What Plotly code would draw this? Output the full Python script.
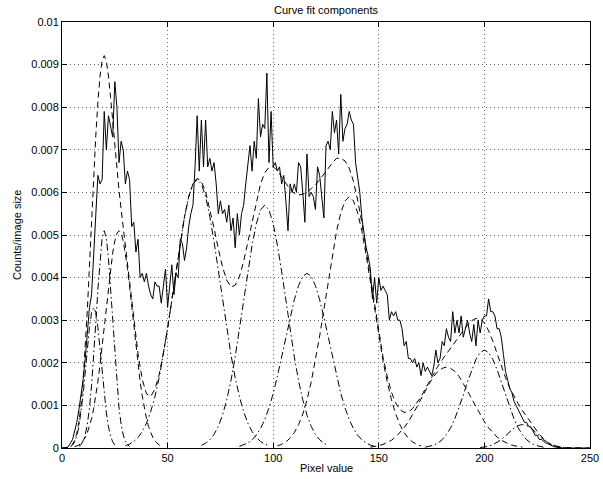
import plotly.graph_objects as go

SCALE = 1e-4  # values below are typed in units of 1e-4

PIXEL_VALUES = list(range(0, 251))
HISTOGRAM = [
    0, 0, 0, 0.3, 1, 2, 4, 6, 9, 12,
    16, 21, 27, 33, 36, 45, 53, 64, 62, 63,
    79, 70, 78, 75, 73, 86, 80, 67, 72, 70,
    62, 65, 63, 52, 53, 46, 49, 40, 41, 39,
    41, 38, 36, 35, 39, 38, 38, 34, 38, 42,
    33, 38, 43, 36, 41, 40, 49, 48, 44, 47,
    52, 55, 57, 66, 78, 65, 77, 66, 77, 66,
    68, 65, 67, 62, 55, 58, 55, 56, 53, 57,
    51, 54, 47, 55, 50, 55, 57, 62, 66, 71,
    65, 72, 68, 82, 73, 76, 75, 88, 67, 79,
    66, 67, 65, 66, 62, 64, 58, 51, 62, 60,
    62, 60, 67, 66, 60, 53, 69, 59, 60, 59,
    56, 66, 64, 58, 54, 71, 72, 70, 79, 74,
    77, 69, 83, 72, 75, 76, 79, 77, 76, 67,
    63, 60, 54, 50, 47, 45, 42, 35, 40, 34,
    40, 37, 38, 37, 36, 30, 32, 31, 32, 30,
    30, 28, 24, 25, 21, 21, 20, 21, 19, 20,
    17, 20, 18, 19, 18, 17, 19, 23, 20, 21,
    25, 24, 28, 26, 25, 32, 27, 30, 27, 31,
    26, 28, 30, 27, 25, 29, 24, 30, 27, 30,
    31, 31, 35, 32, 32, 31, 28, 28, 26, 22,
    18, 16, 14, 13, 11, 10, 9, 8, 7, 6,
    6, 5, 5, 4, 3, 3, 2, 2, 1.5, 1.2,
    1, 0.7, 0.5, 0.3, 0.2, 0.1, 0, 0, 0, 0,
    0, 0, 0, 0, 0, 0, 0, 0, 0, 0, 0,
]

FIT_X = list(range(0, 31)) + list(range(32, 251, 2))
FIT_TOTAL = [
    0, 0.03, 0.1, 0.2, 0.41, 0.89, 1.79, 3.40, 6.04, 10.1, 15.9,
    23.3, 32.4, 42.7, 53.4, 63.7, 73.3, 81.2, 87.3, 91.0, 92.1,
    90.8, 87.3, 82.3, 76.6, 70.7, 65.4, 60.5, 56.0, 51.7, 47.9,
    39.2, 30.1, 22.1, 16.1, 12.7, 12.1, 13.8, 17.2, 22.2, 28.1,
    34.8, 41.7, 48.4, 54.3, 59.0, 62.0, 63.3, 62.6, 60.1, 56.2,
    51.6, 46.8, 42.5, 39.4, 37.8, 38.2, 40.2, 43.8, 48.4, 53.4,
    58.1, 62.0, 64.6, 65.9, 66.0, 65.2, 63.6, 62.1, 60.7, 59.8,
    59.4, 59.6, 60.0, 60.9, 61.8, 63.0, 64.3, 65.7, 66.9, 68.0,
    68.0, 67.4, 65.7, 62.6, 58.2, 52.8, 46.5, 39.9, 33.2, 27.0,
    21.3, 16.8, 13.1, 10.6, 9.0, 8.35, 8.48, 9.24, 10.5, 12.0,
    13.9, 15.7, 17.5, 19.2, 20.7, 22.1, 23.4, 24.9, 26.3, 27.6,
    28.9, 29.9, 30.4, 30.3, 29.4, 27.5, 25.1, 22.2, 19.3, 16.5,
    14.1, 12.1, 10.4, 8.8, 7.4, 5.8, 4.5, 3.2, 2.2, 1.3,
    0.74, 0.40, 0.20, 0.09, 0.04, 0.02, 0.01, 0, 0, 0,
]

C1_X = list(range(4, 27))
C1_Y = [0.31, 0.70, 1.45, 2.80, 4.98, 8.23, 12.6, 17.8, 23.3, 28.3, 31.8, 33,
        31.8, 28.3, 23.3, 17.8, 12.6, 8.23, 4.98, 2.80, 1.45, 0.70, 0.31]
C2_X = list(range(8, 33))
C2_Y = [0.35, 0.77, 1.60, 3.08, 5.56, 9.35, 14.7, 21.4, 29.3, 37.3, 44.4, 49.3, 51,
        49.3, 44.4, 37.3, 29.3, 21.4, 14.7, 9.35, 5.56, 3.08, 1.60, 0.77, 0.35]
C3_X = list(range(6, 49))
C3_Y = [0.28, 0.45, 0.71, 1.10, 1.67, 2.46, 3.56, 5.01, 6.90, 9.28, 12.2, 15.6,
        19.6, 23.9, 28.5, 33.3, 37.9, 42.2, 45.8, 48.6, 50.4, 51, 50.4, 48.6,
        45.8, 42.2, 37.9, 33.3, 28.5, 23.9, 19.6, 15.6, 12.2, 9.28, 6.90, 5.01,
        3.56, 2.46, 1.67, 1.10, 0.71, 0.45, 0.28]
C4_X = list(range(30, 99, 2))
C4_Y = [0.53, 0.92, 1.53, 2.47, 3.86, 5.84, 8.52, 12.1, 16.5, 21.9, 28.0, 34.8,
        41.7, 48.4, 54.3, 59.0, 62.0, 63, 62.0, 59.0, 54.3, 48.4, 41.7, 34.8,
        28.0, 21.9, 16.5, 12.1, 8.52, 5.84, 3.86, 2.47, 1.53, 0.92, 0.53]
C5_X = list(range(66, 127, 2))
C5_Y = [0.63, 1.13, 1.94, 3.20, 5.07, 7.71, 11.3, 15.8, 21.4, 27.7, 34.6, 41.4,
        47.6, 52.6, 55.9, 57, 55.9, 52.6, 47.6, 41.4, 34.6, 27.7, 21.4, 15.8,
        11.3, 7.71, 5.07, 3.20, 1.94, 1.13, 0.63]
C6_X = list(range(84, 149, 2))
C6_Y = [0.39, 0.69, 1.17, 1.91, 3.01, 4.57, 6.68, 9.43, 12.8, 16.9, 21.3, 26.1,
        30.7, 34.8, 38.1, 40.3, 41, 40.3, 38.1, 34.8, 30.7, 26.1, 21.3, 16.9,
        12.8, 9.43, 6.68, 4.57, 3.01, 1.91, 1.17, 0.69, 0.39]
C7_X = list(range(102, 171, 2))
C7_Y = [0.50, 0.86, 1.43, 2.31, 3.61, 5.46, 7.98, 11.3, 15.5, 20.5, 26.3, 32.5,
        39.0, 45.3, 50.9, 55.2, 58.0, 59, 58.0, 55.2, 50.9, 45.3, 39.0, 32.5,
        26.3, 20.5, 15.5, 11.3, 7.98, 5.46, 3.61, 2.31, 1.43, 0.86, 0.50]
C8_X = list(range(146, 219, 2))
C8_Y = [0.21, 0.34, 0.54, 0.83, 1.25, 1.82, 2.57, 3.54, 4.74, 6.17, 7.81, 9.61,
        11.5, 13.4, 15.2, 16.8, 18.0, 18.7, 19, 18.7, 18.0, 16.8, 15.2, 13.4,
        11.5, 9.61, 7.81, 6.17, 4.74, 3.54, 2.57, 1.82, 1.25, 0.83, 0.54, 0.34, 0.21]
C9_X = list(range(172, 229, 2))
C9_Y = [0.18, 0.35, 0.66, 1.16, 1.95, 3.11, 4.74, 6.86, 9.45, 12.4, 15.5, 18.4,
        20.8, 22.4, 23, 22.4, 20.8, 18.4, 15.5, 12.4, 9.45, 6.86, 4.74, 3.11,
        1.95, 1.16, 0.66, 0.35, 0.18]
C10_X = list(range(198, 239, 2))
C10_Y = [0.09, 0.20, 0.40, 0.74, 1.27, 1.98, 2.86, 3.81, 4.67, 5.28, 5.5, 5.28,
         4.67, 3.81, 2.86, 1.98, 1.27, 0.74, 0.40, 0.20, 0.09]

X_TICKS = [0, 50, 100, 150, 200, 250]
Y_TICKS = [0, 0.001, 0.002, 0.003, 0.004, 0.005, 0.006, 0.007, 0.008, 0.009, 0.01]
Y_TICK_TEXT = ["0", "0.001", "0.002", "0.003", "0.004", "0.005", "0.006",
               "0.007", "0.008", "0.009", "0.01"]

DASH = "6px,4px"
DASHDOT = "7px,3px,1.5px,3px"
COMPONENTS = [
    (C1_X, C1_Y, DASHDOT), (C2_X, C2_Y, DASHDOT), (C3_X, C3_Y, DASH),
    (C4_X, C4_Y, DASHDOT), (C5_X, C5_Y, DASHDOT), (C6_X, C6_Y, DASHDOT),
    (C7_X, C7_Y, DASH), (C8_X, C8_Y, DASH), (C9_X, C9_Y, DASHDOT),
    (C10_X, C10_Y, DASHDOT),
]

FONT = "Liberation Sans, Arial, Helvetica, sans-serif"

fig = go.Figure()
for cx, cy, dash in COMPONENTS:
    fig.add_trace(go.Scatter(x=cx, y=[v * SCALE for v in cy], mode="lines",
                             line=dict(color="black", width=1, dash=dash),
                             showlegend=False, hoverinfo="skip"))
fig.add_trace(go.Scatter(x=FIT_X, y=[v * SCALE for v in FIT_TOTAL], mode="lines",
                         line=dict(color="black", width=1, dash=DASH),
                         showlegend=False))
fig.add_trace(go.Scatter(x=PIXEL_VALUES, y=[v * SCALE for v in HISTOGRAM], mode="lines",
                         line=dict(color="black", width=1),
                         showlegend=False))

axis_common = dict(
    showline=True, linecolor="black", linewidth=1, mirror="ticks",
    ticks="inside", ticklen=5, tickcolor="black", tickwidth=1,
    showgrid=True, gridcolor="#666666", gridwidth=1, griddash="1px,3px",
    zeroline=False, automargin=False,
    tickfont=dict(family=FONT, size=11, color="black"),
)

fig.update_layout(
    width=603, height=479,
    margin=dict(l=62, r=13, t=22, b=31),
    paper_bgcolor="white", plot_bgcolor="white",
    font=dict(family=FONT, size=11, color="black"),
    title=dict(text="Curve fit components", x=0.5, xref="paper",
               y=1 - 10 / 479, yref="container", yanchor="middle",
               font=dict(family=FONT, size=11, color="black")),
    xaxis=dict(range=[0, 250], tickvals=X_TICKS, **axis_common),
    yaxis=dict(range=[0, 0.01], tickvals=Y_TICKS, ticktext=Y_TICK_TEXT, **axis_common),
    annotations=[
        dict(text="Pixel value", xref="paper", yref="paper", x=0.5, y=-20 / 426,
             xanchor="center", yanchor="middle", showarrow=False,
             font=dict(family=FONT, size=11, color="black")),
        dict(text="Counts/image size", xref="paper", yref="paper", x=-45 / 528, y=0.5,
             xanchor="center", yanchor="middle", textangle=-90, showarrow=False,
             font=dict(family=FONT, size=11, color="black")),
    ],
)

fig.write_html("out.html", config={"displayModeBar": False},
               post_script="document.body.style.margin='0';")
